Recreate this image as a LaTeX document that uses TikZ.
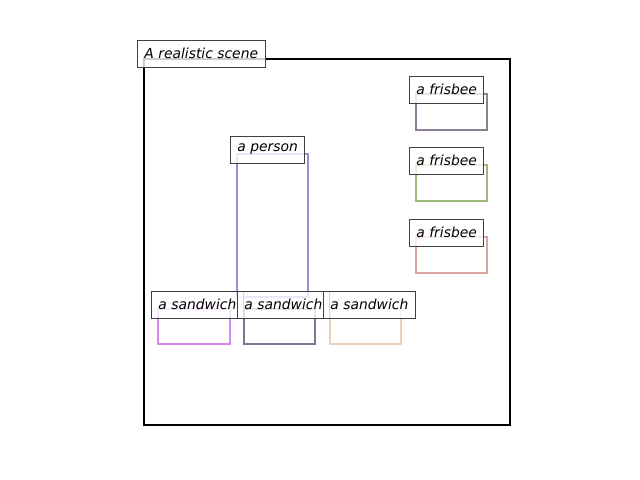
\documentclass[tikz,border=0pt]{standalone}
\usepackage{fontspec}
\setsansfont{DejaVu Sans}
\usepackage{tikz}

\definecolor{frisbeeA}{HTML}{8C7F96}
\definecolor{frisbeeB}{HTML}{9ABA76}
\definecolor{frisbeeC}{HTML}{DCA3A0}
\definecolor{personC}{HTML}{9590D4}
\definecolor{sandA}{HTML}{D985EE}
\definecolor{sandB}{HTML}{737A94}
\definecolor{sandC}{HTML}{E6D4B4}

\begin{document}
\begin{tikzpicture}[
  x=0.02cm, y=-0.02cm,
  obj/.style={line width=1.45pt},
  tag/.style={draw=black!75, fill=white, fill opacity=0.8, text opacity=1, anchor=west,
              inner xsep=0.14cm, inner ysep=0pt, minimum height=0.54cm, line width=0.5pt,
              font=\sffamily\itshape\fontsize{7.9}{9}\selectfont}
]
\useasboundingbox (0,0) rectangle (640,480);

% Scene frame
\draw[line width=1.2pt] (144,59) rectangle (510,425);

% Object boxes
\draw[obj, frisbeeA] (416,94) rectangle (487,130);
\draw[obj, frisbeeB] (416,165) rectangle (487,201);
\draw[obj, frisbeeC] (416,237) rectangle (487,273);
\draw[obj, personC] (237,154) rectangle (308,297);
\draw[obj, sandA] (158,309) rectangle (230,344);
\draw[obj, sandB] (244,309) rectangle (315,344);
\draw[obj, sandC] (330,309) rectangle (401,344);

% Labels
\node[tag] (scene)   at (137,53.5) {A realistic scene};
\node[tag] (frisA)   at (409,89.5) {a frisbee};
\node[tag] (frisB)   at (409,160.5) {a frisbee};
\node[tag] (frisC)   at (409,232.5) {a frisbee};
\node[tag] (person)  at (230,149.5) {a person};
\node[tag] (sandwA)  at (151,304.5) {a sandwich};
\node[tag] (sandwB)  at (237,304.5) {a sandwich};
\node[tag] (sandwC)  at (323,304.5) {a sandwich};

\end{tikzpicture}
\end{document}
